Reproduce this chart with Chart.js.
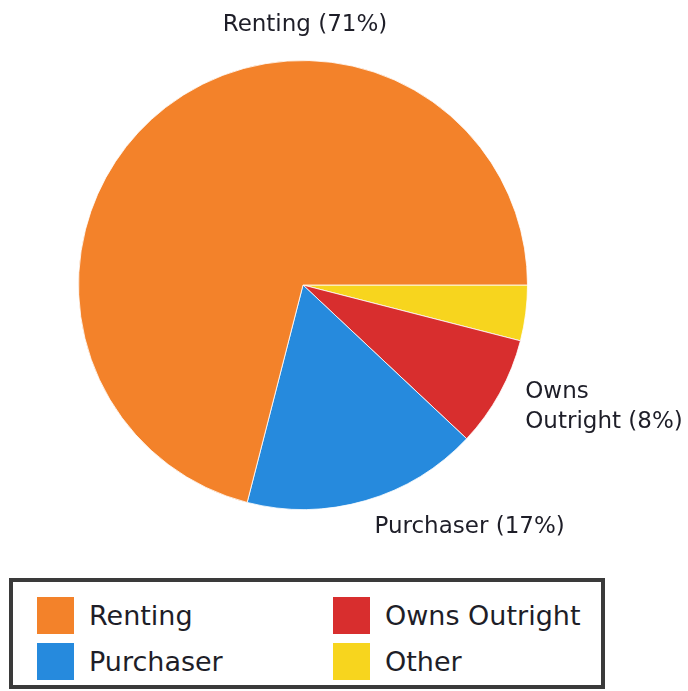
<!DOCTYPE html>
<html>
<head>
<meta charset="utf-8">
<script src="https://cdn.jsdelivr.net/npm/chart.js@4.4.0/dist/chart.umd.min.js"></script>
<style>
  html, body { margin: 0; padding: 0; background: #fff; }
  #wrap { position: relative; width: 688px; height: 691px; overflow: hidden; }
  #pieChart { position: absolute; left: 0; top: 0; }
  #legend {
    position: absolute; left: 9px; top: 578px; width: 596px; height: 111px;
    border: 4px solid #3a3a3a; box-sizing: border-box;
    display: grid; grid-template-rows: 46px 46px; grid-auto-flow: column;
    grid-template-columns: 296px 1fr; padding: 15px 0 0 24px;
    font-family: 'DejaVu Sans', sans-serif; font-size: 27px; color: #1e1e28;
  }
  .item { display: flex; align-items: center; height: 37px; }
  .swatch { width: 37px; height: 37px; margin-right: 15px; flex: none; }
</style>
</head>
<body>
<div id="wrap">
  <canvas id="pieChart" width="688" height="575"></canvas>
  <div id="legend"></div>
</div>
<script>
'use strict';

// Data (clockwise from 3 o'clock)
const categories = ['Other', 'Owns Outright', 'Purchaser', 'Renting'];
const shares = [4, 8, 17, 71];
const showLabel = [false, true, true, true];
const colors = ['#F7D51E', '#D82E2E', '#268ADD', '#F3822A'];

// Slice labels drawn outside the pie
const sliceLabels = {
  id: 'sliceLabels',
  afterDatasetsDraw(chart) {
    const ctx = chart.ctx;
    const arcs = chart.getDatasetMeta(0).data;
    ctx.save();
    ctx.font = '23px "DejaVu Sans", sans-serif';
    ctx.fillStyle = '#1e1e28';
    arcs.forEach((arc, i) => {
      if (!showLabel[i]) return;
      const text = `${categories[i]} (${shares[i]}%)`;
      const { x, y, startAngle, endAngle, outerRadius } = arc.getProps(['x', 'y', 'startAngle', 'endAngle', 'outerRadius'], true);

      // largest slice gets its label centred above the pie
      if (shares[i] === Math.max(...shares)) {
        ctx.textAlign = 'center';
        ctx.textBaseline = 'middle';
        ctx.fillText(text, x + 2, y - outerRadius - 35);
        return;
      }

      const mid = (startAngle + endAngle) / 2;
      const r = outerRadius + 28;
      const lx = x + Math.cos(mid) * r + 1;
      const ly = y + Math.sin(mid) * r;
      const room = chart.width - lx - 2;
      let lines = [text];
      if (ctx.measureText(text).width > room) {
        const words = text.split(' ');
        lines = [words[0], words.slice(1).join(' ')];
      }
      ctx.textAlign = 'left';
      ctx.textBaseline = 'middle';
      const lh = 30;
      lines.forEach((line, k) => {
        ctx.fillText(line, lx, ly + (k - (lines.length - 1) / 2) * lh);
      });
    });
    ctx.restore();
  }
};

const pieChart = new Chart(document.getElementById('pieChart').getContext('2d'), {
  type: 'pie',
  data: {
    labels: categories,
    datasets: [{
      data: shares,
      backgroundColor: colors,
      borderColor: 'rgba(255,255,255,0.8)',
      borderWidth: 1
    }]
  },
  options: {
    responsive: false,
    animation: false,
    rotation: 90,
    layout: { padding: { top: 60, bottom: 65, left: 78, right: 160 } },
    plugins: {
      legend: { display: false },
      tooltip: { enabled: false }
    }
  },
  plugins: [sliceLabels]
});

// HTML legend: two columns, Renting / Purchaser then Owns Outright / Other
function buildLegend(chart) {
  const box = document.getElementById('legend');
  const items = chart.options.plugins.legend.labels.generateLabels(chart).slice().reverse();
  box.innerHTML = items.map(it => `
    <div class="item"><span class="swatch" style="background:${it.fillStyle}"></span><span>${it.text}</span></div>
  `).join('');
}
buildLegend(pieChart);
</script>
</body>
</html>
